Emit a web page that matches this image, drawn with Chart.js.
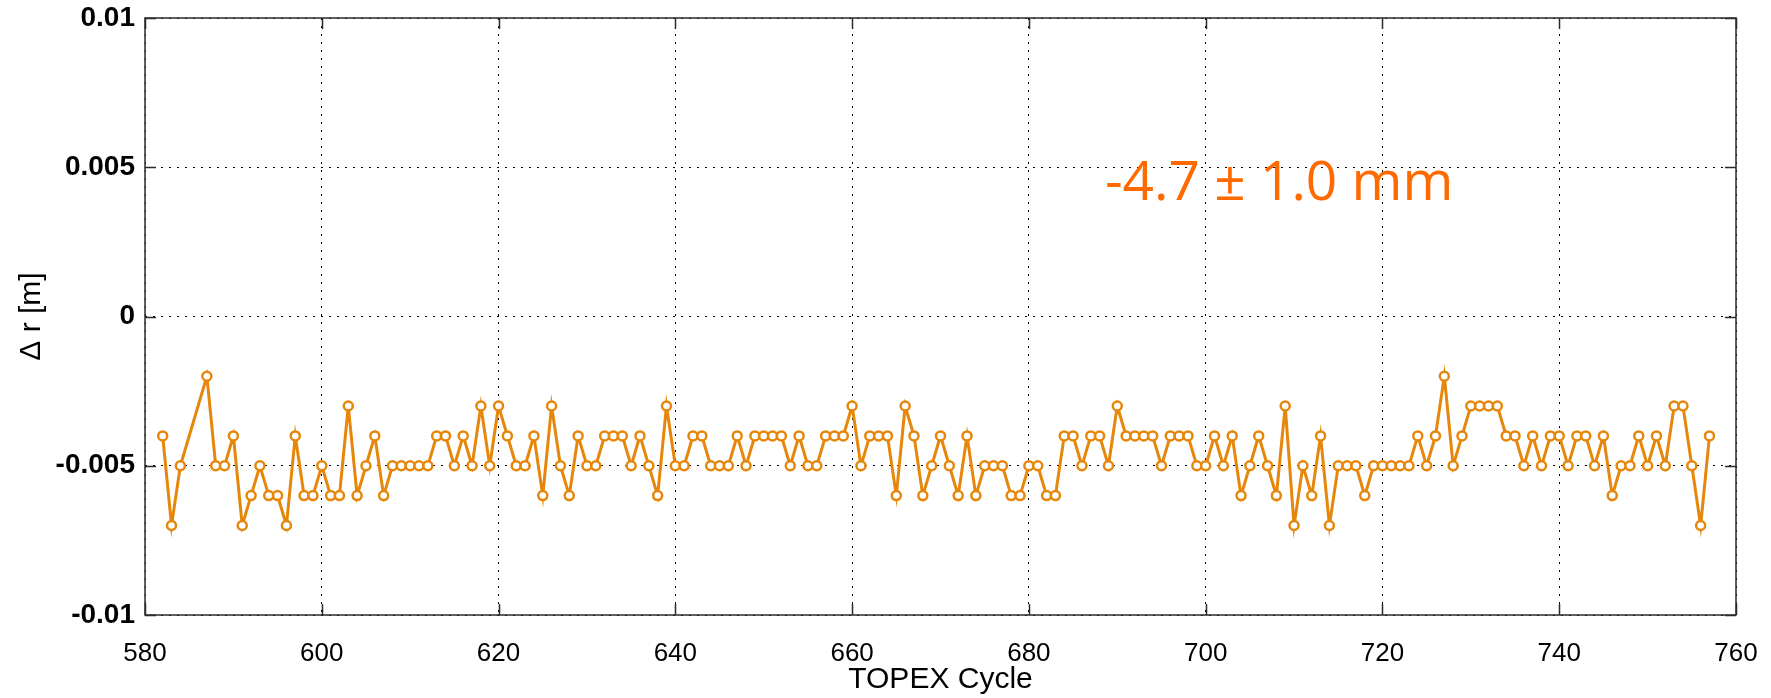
<!DOCTYPE html>
<html>
<head>
<meta charset="utf-8">
<script src="https://cdn.jsdelivr.net/npm/chart.js@4/dist/chart.umd.min.js"></script>
<style>
  html, body { margin: 0; padding: 0; background: #fff; }
  #wrap { width: 1771px; height: 698px; }
</style>
</head>
<body>
<div id="wrap"><canvas id="myChart" width="1771" height="698"></canvas></div>
<script>
// TOPEX cycle numbers (585 and 586 missing)
var cycles = [
  582, 583, 584, 587, 588, 589, 590, 591, 592, 593, 594, 595, 596, 597, 598, 599,
  600, 601, 602, 603, 604, 605, 606, 607, 608, 609, 610, 611, 612, 613, 614, 615,
  616, 617, 618, 619, 620, 621, 622, 623, 624, 625, 626, 627, 628, 629, 630, 631,
  632, 633, 634, 635, 636, 637, 638, 639, 640, 641, 642, 643, 644, 645, 646, 647,
  648, 649, 650, 651, 652, 653, 654, 655, 656, 657, 658, 659, 660, 661, 662, 663,
  664, 665, 666, 667, 668, 669, 670, 671, 672, 673, 674, 675, 676, 677, 678, 679,
  680, 681, 682, 683, 684, 685, 686, 687, 688, 689, 690, 691, 692, 693, 694, 695,
  696, 697, 698, 699, 700, 701, 702, 703, 704, 705, 706, 707, 708, 709, 710, 711,
  712, 713, 714, 715, 716, 717, 718, 719, 720, 721, 722, 723, 724, 725, 726, 727,
  728, 729, 730, 731, 732, 733, 734, 735, 736, 737, 738, 739, 740, 741, 742, 743,
  744, 745, 746, 747, 748, 749, 750, 751, 752, 753, 754, 755, 756, 757
];

// radial difference per cycle [m]
var deltaR = [
  -0.004, -0.007, -0.005, -0.002, -0.005, -0.005, -0.004, -0.007, -0.006, -0.005, -0.006, -0.006, -0.007, -0.004, -0.006, -0.006,
  -0.005, -0.006, -0.006, -0.003, -0.006, -0.005, -0.004, -0.006, -0.005, -0.005, -0.005, -0.005, -0.005, -0.004, -0.004, -0.005,
  -0.004, -0.005, -0.003, -0.005, -0.003, -0.004, -0.005, -0.005, -0.004, -0.006, -0.003, -0.005, -0.006, -0.004, -0.005, -0.005,
  -0.004, -0.004, -0.004, -0.005, -0.004, -0.005, -0.006, -0.003, -0.005, -0.005, -0.004, -0.004, -0.005, -0.005, -0.005, -0.004,
  -0.005, -0.004, -0.004, -0.004, -0.004, -0.005, -0.004, -0.005, -0.005, -0.004, -0.004, -0.004, -0.003, -0.005, -0.004, -0.004,
  -0.004, -0.006, -0.003, -0.004, -0.006, -0.005, -0.004, -0.005, -0.006, -0.004, -0.006, -0.005, -0.005, -0.005, -0.006, -0.006,
  -0.005, -0.005, -0.006, -0.006, -0.004, -0.004, -0.005, -0.004, -0.004, -0.005, -0.003, -0.004, -0.004, -0.004, -0.004, -0.005,
  -0.004, -0.004, -0.004, -0.005, -0.005, -0.004, -0.005, -0.004, -0.006, -0.005, -0.004, -0.005, -0.006, -0.003, -0.007, -0.005,
  -0.006, -0.004, -0.007, -0.005, -0.005, -0.005, -0.006, -0.005, -0.005, -0.005, -0.005, -0.005, -0.004, -0.005, -0.004, -0.002,
  -0.005, -0.004, -0.003, -0.003, -0.003, -0.003, -0.004, -0.004, -0.005, -0.004, -0.005, -0.004, -0.004, -0.005, -0.004, -0.004,
  -0.005, -0.004, -0.006, -0.005, -0.005, -0.004, -0.005, -0.004, -0.005, -0.003, -0.003, -0.005, -0.007, -0.004
];

var xTicks = [580, 600, 620, 640, 660, 680, 700, 720, 740, 760];
var yTicks = [-0.01, -0.005, 0, 0.005, 0.01];
var annotationText = "-4.7 \u00b1 1.0 mm";

var points = cycles.map(function (c, i) {
  return { x: c, y: deltaR[i] };
});

// MATLAB-like box with inward tick marks + the orange annotation
var boxPlugin = {
  id: "boxPlugin",
  afterDraw: function (chart) {
    var ctx = chart.ctx;
    var a = chart.chartArea;
    var xs = chart.scales.x;
    var ys = chart.scales.y;
    ctx.save();
    ctx.strokeStyle = "#2b2b2b";
    ctx.lineWidth = 1.5;
    ctx.setLineDash([]);
    ctx.strokeRect(a.left, a.top, a.right - a.left, a.bottom - a.top);
    ctx.beginPath();
    xTicks.forEach(function (v) {
      var px = Math.round(xs.getPixelForValue(v)) + 0.5;
      ctx.moveTo(px, a.bottom); ctx.lineTo(px, a.bottom - 11);
      ctx.moveTo(px, a.top); ctx.lineTo(px, a.top + 11);
    });
    yTicks.forEach(function (v) {
      var py = Math.round(ys.getPixelForValue(v)) + 0.5;
      ctx.moveTo(a.left, py); ctx.lineTo(a.left + 11, py);
      ctx.moveTo(a.right, py); ctx.lineTo(a.right - 11, py);
    });
    ctx.stroke();

    // text label
    ctx.fillStyle = "#ff6a00";
    ctx.font = "55px 'Open Sans'";
    ctx.textAlign = "left";
    ctx.textBaseline = "alphabetic";
    ctx.fillText(annotationText, xs.getPixelForValue(688.6), ys.getPixelForValue(0.0039));
    ctx.restore();
  }
};

var ctx = document.getElementById("myChart").getContext("2d");
var myChart = new Chart(ctx, {
  type: "line",
  data: {
    datasets: [
      {
        label: "delta r",
        data: points,
        borderColor: "#e6870b",
        borderWidth: 3,
        backgroundColor: "#ffffff",
        pointBackgroundColor: "#ffffff",
        pointBorderColor: "#e6870b",
        pointBorderWidth: 2.5,
        pointRadius: 4.5,
        tension: 0,
        fill: false,
      },
    ],
  },
  options: {
    responsive: false,
    animation: false,
    devicePixelRatio: 1,
    layout: { padding: { left: 0, top: 18, right: 35, bottom: 0 } },
    plugins: {
      legend: { display: false },
      tooltip: { enabled: false },
    },
    scales: {
      x: {
        type: "linear",
        min: 580,
        max: 760,
        afterBuildTicks: function (s) {
          s.ticks = xTicks.map(function (v) { return { value: v }; });
        },
        afterFit: function (s) { s.height = 83; },
        grid: {
          color: "#000",
          lineWidth: 1,
          drawTicks: true,
          tickLength: 23,
          tickColor: "rgba(0,0,0,0)",
        },
        border: { display: false, dash: [2, 6] },
        ticks: {
          color: "#000",
          padding: 0,
          maxRotation: 0,
          font: { family: "'Liberation Sans', Arial", size: 26 },
        },
        title: {
          display: true,
          text: "TOPEX Cycle",
          color: "#000",
          padding: 0,
          font: { family: "'Liberation Sans', Arial", size: 30 },
        },
      },
      y: {
        type: "linear",
        min: -0.01,
        max: 0.01,
        afterBuildTicks: function (s) {
          s.ticks = yTicks.map(function (v) { return { value: v }; });
        },
        afterFit: function (s) { s.width = 145; },
        grid: {
          color: "#000",
          lineWidth: 1,
          drawTicks: true,
          tickLength: 10,
          tickColor: "rgba(0,0,0,0)",
        },
        border: { display: false, dash: [2, 6] },
        ticks: {
          color: "#000",
          padding: 0,
          font: { family: "'Liberation Sans', Arial", size: 28, weight: "bold" },
          callback: function (v) {
            var s = Number(Number(v).toFixed(3));
            return s === 0 ? "0" : String(s);
          },
        },
        title: {
          display: true,
          text: "\u0394 r [m]",
          color: "#000",
          padding: { top: 14, bottom: 0 },
          font: { family: "'Liberation Sans', Arial", size: 30 },
        },
      },
    },
  },
  plugins: [boxPlugin],
});
</script>
</body>
</html>
